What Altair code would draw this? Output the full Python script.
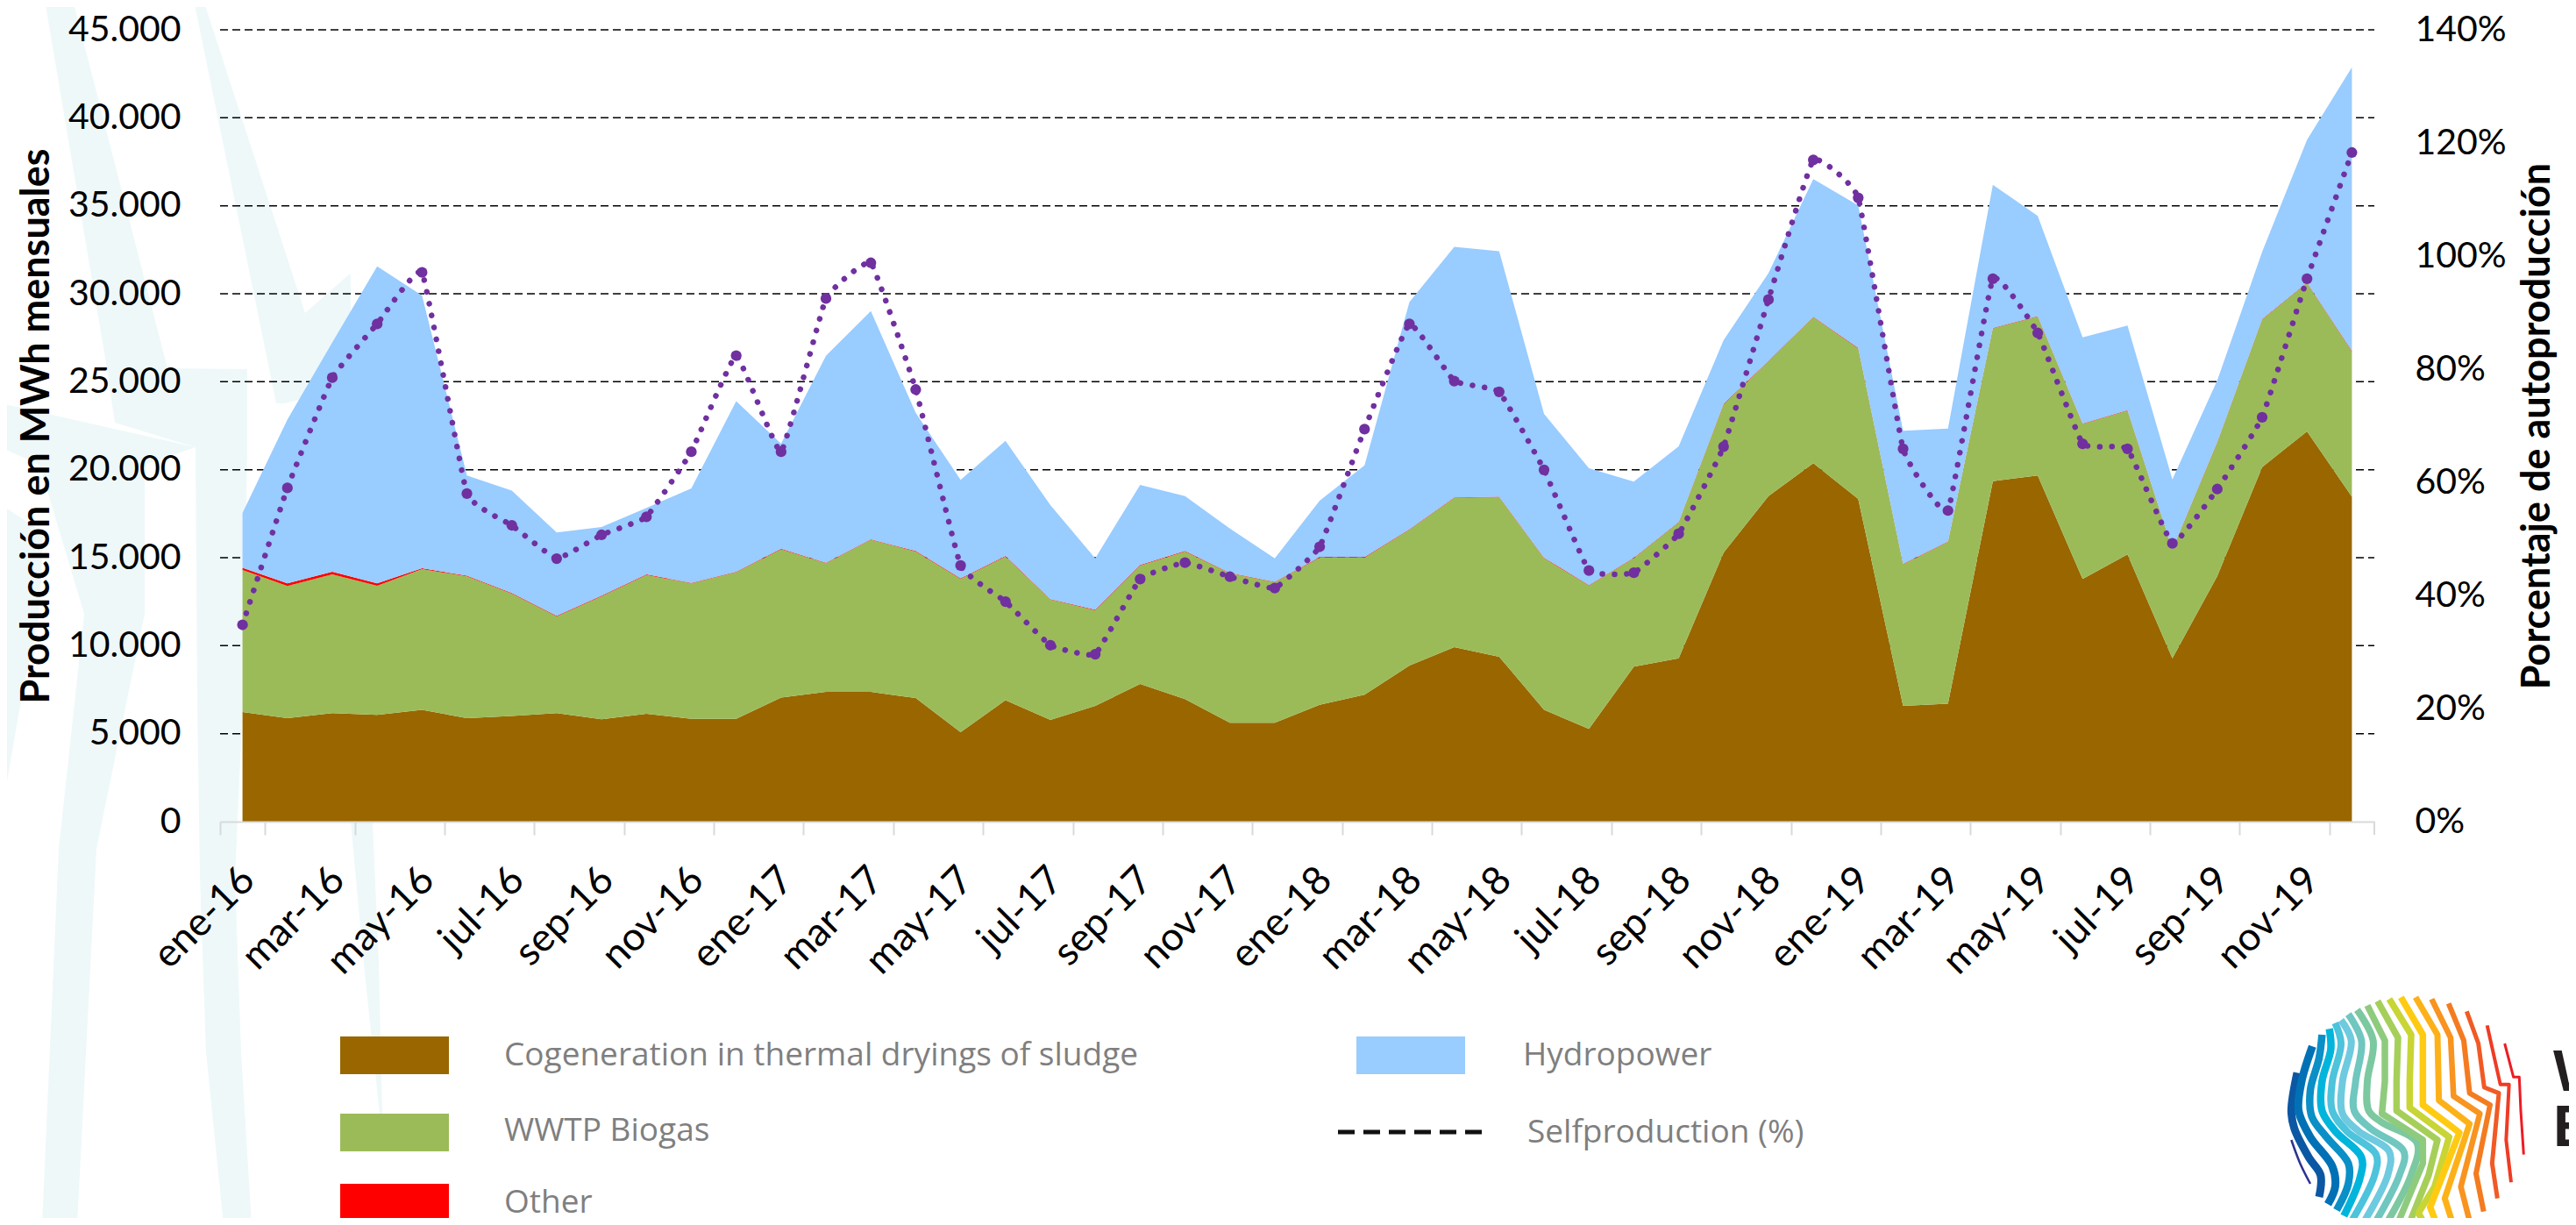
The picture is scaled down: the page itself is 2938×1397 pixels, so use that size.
import altair as alt
import pandas as pd

# ---------- chart values (MWh per month / %) ----------
months = ["ene-16","feb-16","mar-16","abr-16","may-16","jun-16","jul-16","ago-16","sep-16","oct-16","nov-16","dic-16",
          "ene-17","feb-17","mar-17","abr-17","may-17","jun-17","jul-17","ago-17","sep-17","oct-17","nov-17","dic-17",
          "ene-18","feb-18","mar-18","abr-18","may-18","jun-18","jul-18","ago-18","sep-18","oct-18","nov-18","dic-18",
          "ene-19","feb-19","mar-19","abr-19","may-19","jun-19","jul-19","ago-19","sep-19","oct-19","nov-19","dic-19"]

cogeneration = [6229,5879,6165,6070,6356,5879,6006,6165,5816,6133,5848,5848,7055,7373,7373,7023,5085,6896,5784,6578,
                7818,6960,5625,5625,6642,7214,8867,9915,9375,6356,5275,8803,9280,15286,18496,20371,18337,6578,6706,19354,
                19672,13793,15191,9280,13951,20149,22182,18464]
other = [130,140,150,130,50,40,40,30,30,30,30,30,30,30,30,30,30,30,30,30,
         30,30,30,30,30,30,30,30,30,30,30,30,30,30,30,30,30,30,30,30,
         30,30,30,30,30,30,30,30]
biogas_plus_other_top = [14428,13538,14205,13538,14396,13983,12998,11695,12839,14047,13570,14205,15509,14714,16049,15382,
                         13824,15096,12648,12045,14587,15382,14142,13634,15032,15032,16621,18432,18464,15000,13443,15000,
                         17034,23740,26187,28697,26918,14651,15922,28062,28729,22627,23390,15477,21579,28570,30636,26759]
total_top = [17543,22850,27235,31558,29905,19672,18814,16430,16748,17829,18941,23899,21483,26473,29015,23231,
             19418,21642,17987,14968,19132,18496,16653,14968,18242,20244,29524,32670,32416,23168,20085,19322,
             21324,27363,31176,36515,35022,22214,22341,36197,34418,27521,28189,19449,25074,32384,38740,42871]
selfproduction = [34.8,59.0,78.5,88.0,97.1,58.0,52.4,46.5,50.7,53.9,65.4,82.4,65.4,92.5,98.8,76.4,
                  45.3,38.9,31.2,29.6,42.9,45.8,43.3,41.3,48.6,69.4,88.0,77.9,76.0,62.2,44.4,44.0,
                  50.9,66.3,92.3,117.0,110.3,65.9,55.0,96.0,86.4,66.8,65.9,49.2,58.8,71.5,96.0,118.3]

series_names = ["Cogeneration in thermal dryings of sludge","WWTP Biogas","Other","Hydropower"]
series_colors = ["#996600","#9BBB59","#FF0000","#99CCFF"]
left_ticks = [0,5000,10000,15000,20000,25000,30000,35000,40000,45000]
right_ticks = [0,20,40,60,80,100,120,140]

# ---------- layout (page pixels) ----------
PX0, PY0 = 251, 34
W, H = 2457, 903

def gx(x):
    return x - PX0
def gy(y):
    return y - PY0

FONT = "Lato"

rows = []
for i, m in enumerate(months):
    bio = biogas_plus_other_top[i] - other[i] - cogeneration[i]
    hyd = total_top[i] - biogas_plus_other_top[i]
    for r, (n, v) in enumerate(zip(series_names, [cogeneration[i], bio, other[i], hyd])):
        rows.append({"month": m, "series": n, "rank": r, "value": v})
stack_df = pd.DataFrame(rows)
self_df = pd.DataFrame({"month": months, "pct": selfproduction})

x_band = alt.Scale(type="band", domain=months, paddingInner=0, paddingOuter=0)
y_left = alt.Scale(domain=[0, 45000], nice=False, zero=True)
y_right = alt.Scale(domain=[0, 140], nice=False, zero=True)

# ---------- faint watermark behind the chart ----------
WM = "#EEF8F9"
wm_shapes = [
    [(0,51,83),(420,122,191),(421,122,282),(482,131,282),(510,223,282),(800,225,277),(1000,228,268),(1200,235,275),(1397,255,287)],
    [(0,221,232),(357,294,348),(460,315,320)],
    [(313,398,400),(357,348,400),(440,320,400),(460,315,325)],
    [(460,0,1),(510,0,223),(530,45,165),(700,96,165),(968,67,110),(1397,48,88)],
    [(576,0,2),(607,0,49),(700,0,45),(810,0,22),(932,0,1)],
    [(937,400,425),(1100,415,432),(1270,433,436)],
]
wm_rows = []
for k, shp in enumerate(wm_shapes):
    for y, a, b in shp:
        wm_rows.append({"k": k, "y": gy(y), "a": gx(a), "b": gx(b)})
wm = alt.Chart(pd.DataFrame(wm_rows)).mark_area(color=WM, interpolate="linear", orient="horizontal").encode(
    y=alt.Y("y:Q", scale=None, axis=None),
    x=alt.X("a:Q", scale=None, axis=None),
    x2="b:Q",
    detail="k:N",
)

# ---------- grid (drawn over the watermark, under the areas) ----------
grid = alt.Chart(pd.DataFrame({"v": left_ticks[1:]})).mark_rule(
    color="#000000", strokeWidth=1.5, strokeDash=[9, 5]
).encode(
    y=alt.Y("v:Q", scale=y_left, axis=None),
    x=alt.value(0),
    x2=alt.value(W),
)

# ---------- stacked areas with the axes ----------
areas = alt.Chart(stack_df).mark_area(interpolate="linear").encode(
    x=alt.X("month:N", scale=x_band, sort=months, title=None,
            axis=alt.Axis(values=months[::2], tickBand="extent", labelAngle=315, labelAlign="right",
                          labelBaseline="middle", labelFont=FONT, labelFontSize=45, labelColor="#000000",
                          labelPadding=44, labelOffset=6, tickColor="#D9D9D9", tickWidth=2, tickSize=15, zindex=1,
                          domainColor="#D9D9D9", domainWidth=2, labelOverlap=False, labelFlush=False)),
    y=alt.Y("value:Q", stack="zero", scale=y_left,
            axis=alt.Axis(values=left_ticks, orient="left", ticks=False, domain=False, grid=False, zindex=1,
                          labelExpr="replace(format(datum.value, ',d'), ',', '.')",
                          labelFont=FONT, labelFontSize=41, labelColor="#000000", labelPadding=45,
                          title="Producción en MWh mensuales", titleFont=FONT, titleFontSize=45,
                          titleFontWeight="bold", titleColor="#000000", titleX=-210, titleAngle=270,
                          titleBaseline="middle")),
    color=alt.Color("series:N", scale=alt.Scale(domain=series_names, range=series_colors), legend=None),
    order=alt.Order("rank:Q"),
)

end_tick = alt.Chart(pd.DataFrame({"a": [0]})).mark_rule(color="#D9D9D9", strokeWidth=2).encode(
    x=alt.value(W), y=alt.value(H), y2=alt.value(H + 15))

# ---------- self-production line ----------
pct_y = alt.Y("pct:Q", scale=y_right,
              axis=alt.Axis(values=right_ticks, orient="right", ticks=False, domain=False, grid=False, zindex=1,
                            labelExpr="datum.value + '%'", labelAlign="left",
                            labelFont=FONT, labelFontSize=41, labelColor="#000000", labelPadding=46,
                            title="Porcentaje de autoproducción", titleFont=FONT, titleFontSize=45,
                            titleFontWeight="bold", titleColor="#000000", titleX=185, titleAngle=270,
                            titleBaseline="middle"))
pct_x = alt.X("month:N", scale=x_band, sort=months, axis=None)
line = alt.Chart(self_df).mark_line(color="#7030A0", strokeWidth=6.5, strokeCap="round",
                                    strokeDash=[0.1, 13.7], interpolate="cardinal", tension=0.7).encode(x=pct_x, y=pct_y)
points = alt.Chart(self_df).mark_circle(color="#7030A0", size=150, opacity=1).encode(
    x=pct_x, y=alt.Y("pct:Q", scale=y_right, axis=None))

# ---------- hand-placed legend ----------
leg_rect = pd.DataFrame({
    "x": [gx(388), gx(388), gx(388), gx(1547)], "x2": [gx(512), gx(512), gx(512), gx(1671)],
    "y": [gy(1182), gy(1270), gy(1350), gy(1182)], "y2": [gy(1225), gy(1313), gy(1393), gy(1225)],
    "c": series_colors[:3] + series_colors[3:],
})
legend_rects = alt.Chart(leg_rect).mark_rect().encode(
    x=alt.X("x:Q", scale=None, axis=None), x2="x2:Q",
    y=alt.Y("y:Q", scale=None, axis=None), y2="y2:Q",
    color=alt.Color("c:N", scale=None),
)
leg_text = pd.DataFrame({
    "x": [gx(575), gx(575), gx(575), gx(1737), gx(1742)],
    "y": [gy(1204), gy(1290), gy(1372), gy(1204), gy(1292)],
    "t": series_names[:3] + [series_names[3], "Selfproduction (%)"],
})
legend_texts = alt.Chart(leg_text).mark_text(font="Open Sans", fontSize=37, color="#7F7F7F", align="left",
                                             baseline="middle").encode(
    x=alt.X("x:Q", scale=None, axis=None), y=alt.Y("y:Q", scale=None, axis=None), text="t:N")
legend_dash = alt.Chart(pd.DataFrame({"a": [0]})).mark_rule(color="#111111", strokeWidth=5, strokeDash=[19, 10]).encode(
    x=alt.value(gx(1526)), x2=alt.value(gx(1692)), y=alt.value(gy(1291)))

# ---------- logo ----------
logo_stripes = [
    ("#2E3192", 2.5, [(190,600),(220,680),(255,750)]),
    ("#0B57A4", 9, [(210,370),(190,500),(200,560),(250,660),(290,720),(285,795)]),
    ("#0071B5", 9, [(262,280),(225,400),(215,500),(255,590),(330,690),(340,760),(315,820)]),
    ("#0A8FC7", 8.5, [(295,240),(285,320),(255,430),(260,520),(310,590),(385,680),(385,750),(345,840)]),
    ("#00B5DC", 8.5, [(320,220),(325,290),(295,400),(295,500),(340,570),(430,660),(425,730),(370,860)]),
    ("#4DC3DC", 8, [(340,200),(360,270),(330,400),(330,500),(380,570),(480,650),(475,720),(395,880)]),
    ("#6ECADF", 8, [(360,190),(395,260),(365,400),(365,510),(420,570),(525,640),(520,720),(430,895)]),
    ("#6FC7BF", 8, [(385,170),(430,260),(410,400),(405,500),(460,560),(575,640),(560,720),(470,895)]),
    ("#7CC8A0", 8, [(415,155),(470,260),(450,400),(455,500),(500,540),(620,610),(600,720),(510,895)]),
    ("#8FCB7D", 7.5, [(450,140),(510,260),(510,400),(500,510),(640,600),(640,680),(550,895)]),
    ("#A6CF5A", 7.5, [(485,125),(555,250),(550,400),(550,500),(690,600),(660,720),(590,895)]),
    ("#C8D535", 7.5, [(525,118),(600,240),(595,400),(595,490),(730,590),(680,760),(625,850),(650,895)]),
    ("#FFCB12", 7.5, [(565,112),(640,240),(640,480),(765,575),(665,830),(690,895)]),
    ("#FDB118", 7, [(615,112),(690,240),(695,465),(800,545),(715,800),(745,895)]),
    ("#F8941F", 6.5, [(670,118),(735,250),(745,450),(835,510),(770,760),(800,878)]),
    ("#F47B20", 6, [(728,133),(780,260),(800,440),(870,480),(822,715),(848,845)]),
    ("#F15A24", 5, [(790,160),(830,270),(850,420),(900,440),(877,680),(895,800)]),
    ("#EF3B24", 4, [(860,208),(905,410),(935,410),(925,600),(942,745)]),
    ("#ED1C24", 3, [(920,270),(950,385),(970,385),(975,500),(985,650)]),
]
logo_layers = []
for n, (color, width, pts) in enumerate(logo_stripes):
    d = pd.DataFrame({"i": range(len(pts)),
                      "x": [gx(2550 + p[0] / 3) for p in pts],
                      "y": [gy(1100 + p[1] / 3) for p in pts]})
    logo_layers.append(alt.Chart(d).mark_line(color=color, strokeWidth=width, strokeJoin="round",
                                              interpolate="catmull-rom" if n < 9 else "linear").encode(
        x=alt.X("x:Q", scale=None, axis=None), y=alt.Y("y:Q", scale=None, axis=None), order="i:Q"))

logo_text = pd.DataFrame({"x": [gx(2912), gx(2912), gx(2933)], "y": [gy(1224), gy(1287), gy(1175)],
                          "t": ["W", "E", "S"], "s": [66, 66, 34]})
logo_texts = alt.Chart(logo_text).mark_text(font="Liberation Sans", fontWeight="bold", color="#231F20", align="left",
                                            baseline="middle").encode(
    x=alt.X("x:Q", scale=None, axis=None), y=alt.Y("y:Q", scale=None, axis=None), text="t:N",
    size=alt.Size("s:Q", scale=None))

chart = alt.layer(wm, grid, areas, end_tick, line, points, legend_rects, legend_texts, legend_dash,
                  *logo_layers, logo_texts).resolve_scale(
    x="independent", y="independent", color="independent", size="independent"
).resolve_axis(y="independent", x="independent").properties(
    width=W, height=H,
    autosize=alt.AutoSizeParams(type="none"),
    padding={"left": PX0 - 8, "top": PY0 - 8, "right": 2930 - (PX0 + W), "bottom": 1389 - (PY0 + H)},
    background="#FFFFFF",
).configure_view(stroke=None)

chart.save("out.html", embed_options={"renderer": "svg", "actions": False})
